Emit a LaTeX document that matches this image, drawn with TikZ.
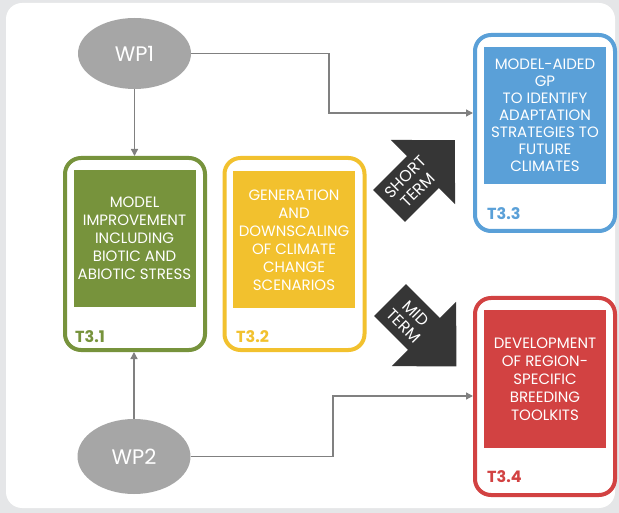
\documentclass[tikz,border=0pt]{standalone}
\usepackage{fontspec}
\setmainfont{Poppins}
\usetikzlibrary{shapes.geometric,arrows.meta}
\definecolor{cgreen}{HTML}{77933C}
\definecolor{cyellow}{HTML}{F2C12E}
\definecolor{cblue}{HTML}{5AA0D8}
\definecolor{cred}{HTML}{D24242}
\definecolor{cwp}{HTML}{A6A6A6}
\definecolor{cdark}{HTML}{363636}
\definecolor{cline}{HTML}{808080}
\definecolor{cbg}{HTML}{E5E6E8}
\begin{document}
\begin{tikzpicture}[x=1pt,y=-1pt,
  outerbox/.style={draw, line width=4pt, rounded corners=16pt, minimum width=140pt, inner sep=0pt, fill=white},
  innerbox/.style={minimum width=122pt, minimum height=137pt, inner sep=0pt, text=white, align=center,
    font=\fontsize{15}{18}\selectfont},
  tlabel/.style={anchor=west, font=\fontsize{16}{18}\selectfont\bfseries, inner sep=0pt},
  wp/.style={ellipse, fill=cwp, minimum width=113pt, minimum height=71pt, inner sep=0pt, text=white,
    font=\fontsize{21}{24}\selectfont},
  conn/.style={draw=cline, line width=1.3pt, -{Triangle[length=7pt,width=7pt]}},
  bigarrow/.style={fill=cdark},
  arrtext/.style={text=white, align=center, font=\fontsize{16}{18}\selectfont, inner sep=0pt}
]
\useasboundingbox (0,0) rectangle (619,513);
\fill[cbg] (0,0) rectangle (619,513);
\fill[white, rounded corners=16pt] (6,3) rectangle (615,508);

% task boxes
\node[outerbox, draw=cgreen, minimum height=192pt] (t31) at (135,254) {};
\node[innerbox, fill=cgreen] (i31) at (134.5,238.5) {MODEL\\IMPROVEMENT\\INCLUDING\\BIOTIC AND\\ABIOTIC STRESS};
\node[tlabel, text=cgreen] (l31) at (75,337) {T3.1};

\node[outerbox, draw=cyellow, minimum height=192pt] (t32) at (294.5,254) {};
\node[innerbox, fill=cyellow] (i32) at (294,240) {GENERATION\\AND\\DOWNSCALING\\OF CLIMATE\\CHANGE\\SCENARIOS};
\node[tlabel, text=cyellow] (l32) at (236,337) {T3.2};

\node[outerbox, draw=cblue, minimum height=196pt] (t33) at (545,133) {};
\node[innerbox, fill=cblue, font=\fontsize{15}{17}\selectfont] (i33) at (545,115.5) {MODEL-AIDED\\GP\\TO IDENTIFY\\ADAPTATION\\STRATEGIES TO\\FUTURE\\CLIMATES};
\node[tlabel, text=cblue] (l33) at (487,214) {T3.3};

\node[outerbox, draw=cred, minimum height=197pt] (t34) at (545,396.5) {};
\node[innerbox, fill=cred, minimum height=138pt] (i34) at (545,379) {DEVELOPMENT\\OF REGION-\\SPECIFIC\\BREEDING\\TOOLKITS};
\node[tlabel, text=cred] (l34) at (487,477) {T3.4};

% work packages
\node[wp] (wp1) at (134.5,53.5) {WP1};
\node[wp, minimum height=75pt] (wp2) at (134,456.5) {WP2};

% connectors
\coordinate (b1) at (329,113);
\coordinate (b2) at (333,396);
\draw[conn] (wp1.south) -- (wp1.south |- t31.north);
\draw[conn] (wp1.east) -| (b1) -- (b1 -| t33.west);
\draw[conn] (wp2.north) -- (wp2.north |- t31.south);
\draw[conn] (wp2.east) -| (b2) -- (b2 -| t34.west);

% big arrows
\begin{scope}[shift={(389,206)}, rotate=45]
  \fill[bigarrow] (0,-22.5) -- (48,-22.5) -- (48,-45.5) -- (93,0) -- (48,45.5) -- (48,22.5) -- (0,22.5) -- cycle;
  \node[arrtext, rotate=45] (st) at (32,0) {SHORT\\TERM};
\end{scope}
\begin{scope}[shift={(390,300)}, rotate=-45]
  \fill[bigarrow] (0,-22.5) -- (48,-22.5) -- (48,-45.5) -- (94,0) -- (48,45.5) -- (48,22.5) -- (0,22.5) -- cycle;
  \node[arrtext, rotate=-45] (mt) at (28,0) {MID\\TERM};
\end{scope}
\end{tikzpicture}
\end{document}
